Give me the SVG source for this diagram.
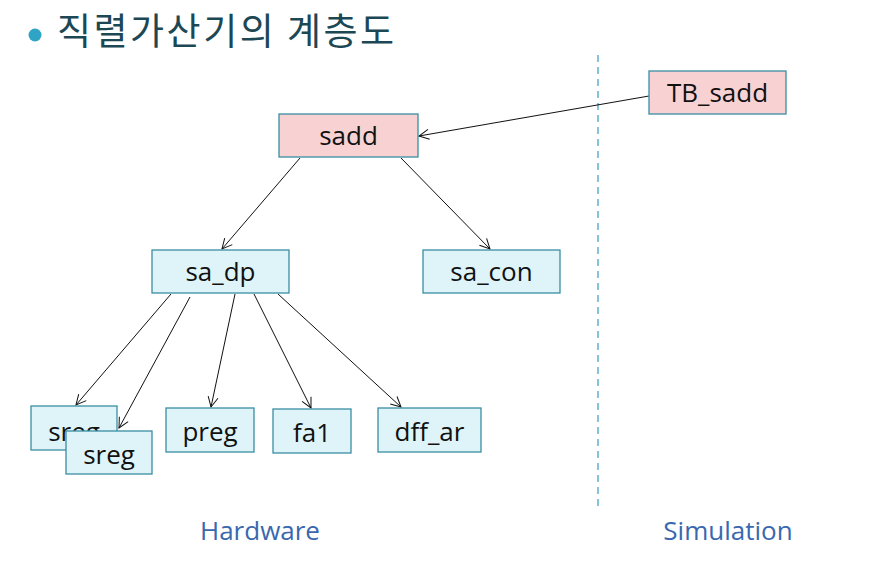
<svg xmlns="http://www.w3.org/2000/svg" width="886" height="587" viewBox="0 0 886 587">
<defs>
<style>
.top rect{fill:#f8d2d3;stroke:#3a8ea3;stroke-width:1.3}
.sub rect{fill:#def4f9;stroke:#3a8ea3;stroke-width:1.3}
.lbl{font-family:"Open Sans","Noto Sans",sans-serif;font-size:26px;fill:#111;text-anchor:middle}
.cap{font-family:"Open Sans","Noto Sans",sans-serif;font-size:26px;fill:#3a68ae;text-anchor:middle}
.edge{stroke:#111;stroke-width:1;fill:none;marker-end:url(#arr)}
</style>
<marker id="arr" viewBox="0 0 12 12" refX="11" refY="6" markerWidth="12" markerHeight="12" markerUnits="userSpaceOnUse" orient="auto">
<path d="M1,1 L11,6 L1,11" fill="none" stroke="#111" stroke-width="1"/>
</marker>
</defs>
<rect width="886" height="587" fill="#fff"/>
<g id="title">
<circle cx="35" cy="35" r="6.5" fill="#2fa4c4"/>
<text x="57" y="45" font-family="'Noto Sans CJK KR',sans-serif" font-size="37" letter-spacing="2.5" fill="#1c4754">직렬가산기의 계층도</text>
</g>
<line id="divider" x1="598" y1="55" x2="598" y2="508" stroke="#4aa3c3" stroke-width="1.3" stroke-dasharray="7,5"/>
<g id="connectors">
<line class="edge" x1="649" y1="96" x2="419" y2="136"/>
<line class="edge" x1="300" y1="158" x2="222" y2="249"/>
<line class="edge" x1="401" y1="158" x2="490" y2="249"/>
<line class="edge" x1="171" y1="294" x2="76" y2="405"/>
<line class="edge" x1="190" y1="297" x2="119" y2="428"/>
<line class="edge" x1="235" y1="294" x2="211" y2="407"/>
<line class="edge" x1="254" y1="294" x2="311" y2="408"/>
<line class="edge" x1="278" y1="294" x2="401" y2="407"/>
</g>
<g id="TB_sadd" class="top"><rect x="649" y="71" width="137" height="43"/><text class="lbl" x="717.5" y="102">TB_sadd</text></g>
<g id="sadd" class="top"><rect x="279" y="114" width="139" height="43"/><text class="lbl" x="348.5" y="145">sadd</text></g>
<g id="sa_dp" class="sub"><rect x="152" y="250" width="137" height="43"/><text class="lbl" x="220.5" y="281">sa_dp</text></g>
<g id="sa_con" class="sub"><rect x="423" y="250" width="137" height="43"/><text class="lbl" x="491.5" y="281">sa_con</text></g>
<g id="sreg1" class="sub"><rect x="31" y="406" width="86" height="44"/><text class="lbl" x="74" y="441">sreg</text></g>
<g id="sreg2" class="sub"><rect x="66" y="431" width="86" height="43"/><text class="lbl" x="109" y="464">sreg</text></g>
<g id="preg" class="sub"><rect x="166" y="408" width="88" height="44"/><text class="lbl" x="210" y="441">preg</text></g>
<g id="fa1" class="sub"><rect x="273" y="409" width="78" height="44"/><text class="lbl" x="312" y="442">fa1</text></g>
<g id="dff_ar" class="sub"><rect x="378" y="408" width="103" height="44"/><text class="lbl" x="429.5" y="441">dff_ar</text></g>
<text class="cap" x="260" y="540">Hardware</text>
<text class="cap" x="728" y="540">Simulation</text>
</svg>
